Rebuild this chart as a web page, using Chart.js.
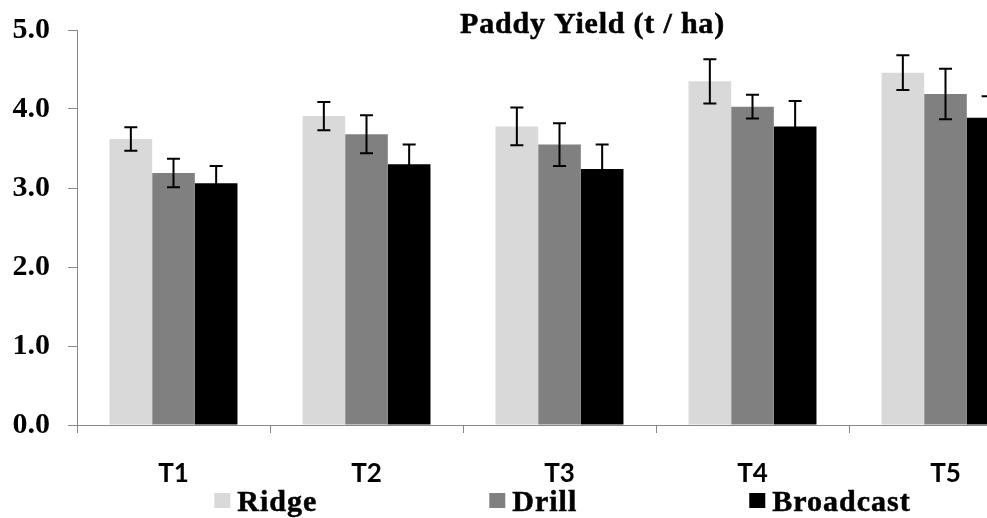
<!DOCTYPE html>
<html>
<head>
<meta charset="utf-8">
<title>Paddy Yield</title>
<script src="https://cdn.jsdelivr.net/npm/chart.js@4.4.1/dist/chart.umd.min.js"></script>
<style>
    html, body { margin: 0; padding: 0; background: #fff; overflow: hidden; }
    #wrap { width: 1060px; height: 518px; }
</style>
</head>
<body>
<div id="wrap"><canvas id="yieldChart" width="1060" height="518"></canvas></div>
<script>
const categories = ['T1', 'T2', 'T3', 'T4', 'T5'];
const ridge = [3.62, 3.91, 3.78, 4.35, 4.46];
const ridgeErr = [0.15, 0.18, 0.24, 0.28, 0.22];
const drill = [3.19, 3.68, 3.55, 4.03, 4.19];
const drillErr = [0.18, 0.24, 0.27, 0.15, 0.32];
const broadcast = [3.06, 3.30, 3.24, 3.78, 3.89];
const broadcastErr = [0.22, 0.25, 0.31, 0.32, 0.27];
const yTicks = [0, 1, 2, 3, 4, 5];
const titleText = 'Paddy Yield (t / ha)';

const serif = '"Liberation Serif", "Times New Roman", serif';
const axisGray = '#888888';

// barras de error
const errorBars = {
    id: 'errorBars',
    afterDatasetsDraw(chart) {
        const ctx = chart.ctx;
        const y = chart.scales.y;
        ctx.save();
        ctx.strokeStyle = '#000';
        ctx.lineWidth = 2;
        chart.data.datasets.forEach((ds, i) => {
            const meta = chart.getDatasetMeta(i);
            meta.data.forEach((bar, j) => {
                const top = y.getPixelForValue(ds.data[j] + ds.errors[j]);
                const bottom = y.getPixelForValue(ds.data[j] - ds.errors[j]);
                const half = 6.5;
                ctx.beginPath();
                ctx.moveTo(bar.x, top);
                ctx.lineTo(bar.x, bottom);
                ctx.moveTo(bar.x - half, top);
                ctx.lineTo(bar.x + half, top);
                ctx.moveTo(bar.x - half, bottom);
                ctx.lineTo(bar.x + half, bottom);
                ctx.stroke();
            });
        });
        ctx.restore();
    },
};

// título y leyenda dibujados a mano
const titleAndLegend = {
    id: 'titleAndLegend',
    afterDraw(chart) {
        const ctx = chart.ctx;
        const area = chart.chartArea;
        const mid = (area.left + area.right) / 2;
        ctx.save();
        ctx.fillStyle = '#000';
        ctx.strokeStyle = '#000';
        ctx.lineWidth = 0.5;
        ctx.textBaseline = 'alphabetic';

        ctx.font = 'bold 30px ' + serif;
        ctx.letterSpacing = '0.8px';
        ctx.textAlign = 'center';
        ctx.fillText(titleText, mid + 33, 33);
        ctx.strokeText(titleText, mid + 33, 33);

        ctx.font = 'bold 30px ' + serif;
        ctx.letterSpacing = '1px';
        ctx.textAlign = 'left';
        const box = 16;
        const gap = 7;
        const spacing = 172;
        const items = chart.data.datasets.map(ds => ({
            label: ds.label,
            color: ds.backgroundColor,
            width: box + gap + ctx.measureText(ds.label).width,
        }));
        const total = items.reduce((s, it) => s + it.width, 0) + spacing * (items.length - 1);
        let x = mid + 3 - total / 2;
        items.forEach(it => {
            ctx.fillStyle = it.color;
            ctx.fillRect(x, 493, box, box - 1);
            ctx.fillStyle = '#000';
            ctx.fillText(it.label, x + box + gap, 511);
            ctx.strokeText(it.label, x + box + gap, 511);
            x += it.width + spacing;
        });
        ctx.restore();
    },
};

const chartData = {
    labels: categories,
    datasets: [
        { label: 'Ridge', data: ridge, errors: ridgeErr, backgroundColor: '#d9d9d9' },
        { label: 'Drill', data: drill, errors: drillErr, backgroundColor: '#808080' },
        { label: 'Broadcast', data: broadcast, errors: broadcastErr, backgroundColor: '#000000' },
    ],
};

new Chart(document.getElementById('yieldChart').getContext('2d'), {
    type: 'bar',
    data: chartData,
    options: {
        responsive: false,
        animation: false,
        devicePixelRatio: 1,
        datasets: {
            bar: { barPercentage: 1, categoryPercentage: 0.663, borderWidth: 0 },
        },
        layout: { padding: { top: 0, right: 18, bottom: 0, left: 0 } },
        plugins: {
            legend: { display: false },
            title: { display: false },
            tooltip: { enabled: false },
        },
        scales: {
            x: {
                afterFit: scale => { scale.height = 93; },
                grid: {
                    offset: true,
                    drawOnChartArea: false,
                    drawTicks: true,
                    tickLength: 8,
                    color: axisGray,
                },
                border: { display: true, color: axisGray, width: 1 },
                ticks: {
                    color: '#000',
                    padding: 25,
                    font: { family: 'Lato', size: 26, weight: 'bold' },
                },
            },
            y: {
                min: 0,
                max: 5,
                afterFit: scale => {
                    scale.width = 77;
                    scale.paddingTop = 30;
                    scale.paddingBottom = 0;
                },
                afterBuildTicks: scale => {
                    scale.ticks = yTicks.map(v => ({ value: v }));
                },
                grid: {
                    drawOnChartArea: false,
                    drawTicks: true,
                    tickLength: 9,
                    color: axisGray,
                },
                border: { display: true, color: axisGray, width: 1 },
                ticks: {
                    color: '#000',
                    padding: 18,
                    font: { family: serif, size: 30, weight: 'bold' },
                    callback: value => Number(value).toFixed(1),
                },
            },
        },
    },
    plugins: [errorBars, titleAndLegend],
});
</script>
</body>
</html>
